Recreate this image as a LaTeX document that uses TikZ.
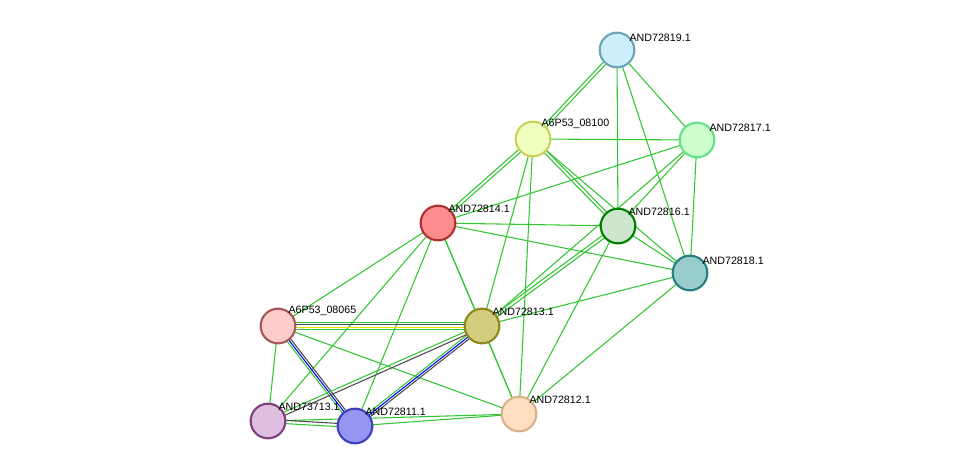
\documentclass[tikz,border=0pt]{standalone}
\usepackage{fontspec}
\setmainfont{Liberation Sans}
\usetikzlibrary{calc}

\definecolor{edgegreen}{HTML}{33C633}
\tikzset{
  prot/.style 2 args={circle, draw=#2, fill=#1, line width=1.6pt, minimum size=26pt, inner sep=0pt},
  lbl/.style={anchor=south west, font=\fontsize{8}{9}\selectfont, inner sep=1pt},
  ed/.style={edgegreen, line width=0.8pt},
}
% parallel line at offset #3 (pt) from #1 to #2
\newcommand{\pline}[4]{\draw[#4, line width=0.8pt] ($(#1)!#3!90:(#2)$) -- ($(#2)!#3!-90:(#1)$);}

\begin{document}
\begin{tikzpicture}[x=0.75pt, y=-0.75pt]
\useasboundingbox (0,0) rectangle (975,471);

\coordinate (p819) at (617,50);
\coordinate (p08100) at (533,139);
\coordinate (p817) at (697,140);
\coordinate (p814) at (438,223);
\coordinate (p816) at (618,226);
\coordinate (p818) at (690,273);
\coordinate (p08065) at (278,326);
\coordinate (p813) at (482,326);
\coordinate (p73713) at (268,421);
\coordinate (p811) at (355,426);
\coordinate (p812) at (519,414);

% single green edges
\foreach \a/\b in {819/817, 819/816, 819/818, 08100/817, 08100/818, 08100/813, 08100/812,
  817/816, 817/818, 817/814, 817/813, 814/816, 814/818, 814/813, 814/812, 814/08065,
  814/73713, 814/811, 816/818, 816/812, 818/813, 818/812, 813/812, 08065/73713,
  08065/812, 73713/812, 811/812}
  \draw[ed] (p\a) -- (p\b);

% double green edges
\foreach \a/\b in {819/08100, 08100/814, 08100/816, 816/813}{
  \pline{p\a}{p\b}{1.2pt}{edgegreen}
  \pline{p\a}{p\b}{-1.2pt}{edgegreen}
}

% coloured evidence edges
\pline{p08065}{p813}{2.4pt}{edgegreen}
\pline{p08065}{p813}{0.8pt}{black!70}
\pline{p08065}{p813}{-0.8pt}{yellow!80!olive}
\pline{p08065}{p813}{-2.4pt}{edgegreen}

\pline{p08065}{p811}{1.6pt}{black!70}
\pline{p08065}{p811}{0pt}{blue}
\pline{p08065}{p811}{-1.6pt}{edgegreen}

\pline{p813}{p811}{1.6pt}{black!70}
\pline{p813}{p811}{0pt}{blue}
\pline{p813}{p811}{-1.6pt}{edgegreen}

\pline{p813}{p73713}{1.2pt}{black!70}
\pline{p813}{p73713}{-1.2pt}{edgegreen}

\pline{p73713}{p811}{1.2pt}{black!70}
\pline{p73713}{p811}{-1.2pt}{edgegreen}

% proteins
\node[prot={cyan!20!white}{cyan!40!gray}] (n819) at (p819) {};
\node[prot={lime!25!white}{olive!50!lime!60!white}] (n08100) at (p08100) {};
\node[prot={green!20!white}{teal!40!green!60!white}] (n817) at (p817) {};
\node[prot={red!45!white}{red!60!black!80}] (n814) at (p814) {};
\node[prot={green!50!black!20!white}{green!50!black}] (n816) at (p816) {};
\node[prot={teal!40!white}{teal!70!gray}] (n818) at (p818) {};
\node[prot={red!20!white}{red!30!gray}] (n08065) at (p08065) {};
\node[prot={olive!40!white}{olive!80!gray}] (n813) at (p813) {};
\node[prot={violet!25!white}{violet!50!gray}] (n73713) at (p73713) {};
\node[prot={blue!40!white!90!gray}{blue!50!gray}] (n811) at (p811) {};
\node[prot={orange!25!white}{brown!60!white}] (n812) at (p812) {};

\node[lbl] at ($(n819.north east)+(-2,6)$) {AND72819.1};
\node[lbl] at ($(n08100.north east)+(-6,4)$) {A6P53\_08100};
\node[lbl] at ($(n817.north east)+(-2,6)$) {AND72817.1};
\node[lbl] at ($(n814.north east)+(-4,4)$) {AND72814.1};
\node[lbl] at ($(n816.north east)+(-4,4)$) {AND72816.1};
\node[lbl] at ($(n818.north east)+(-2,6)$) {AND72818.1};
\node[lbl] at ($(n08065.north east)+(-4,4)$) {A6P53\_08065};
\node[lbl] at ($(n813.north east)+(-4,4)$) {AND72813.1};
\node[lbl] at ($(n73713.north east)+(-4,4)$) {AND73713.1};
\node[lbl] at ($(n811.north east)+(-4,4)$) {AND72811.1};
\node[lbl] at ($(n812.north east)+(-4,4)$) {AND72812.1};
\end{tikzpicture}
\end{document}
